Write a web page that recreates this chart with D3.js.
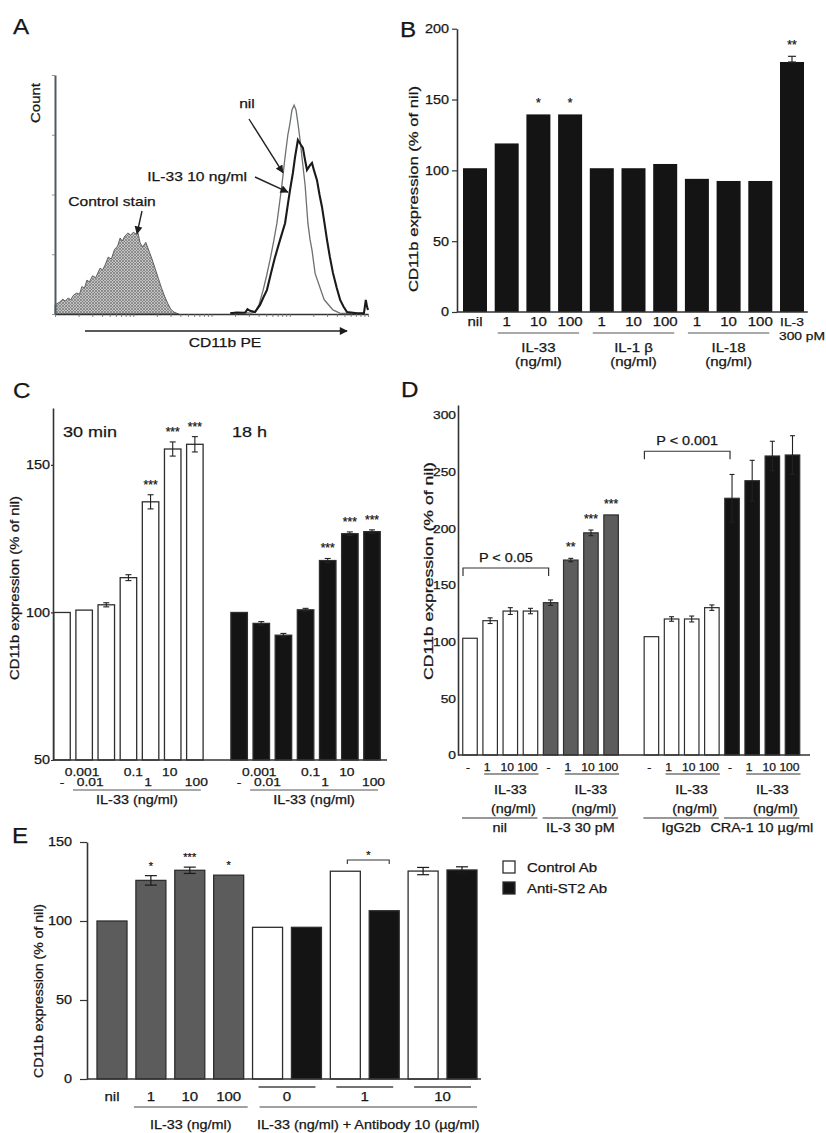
<!DOCTYPE html>
<html><head><meta charset="utf-8">
<script src="https://cdn.jsdelivr.net/npm/d3@7"></script>
<style>
body{margin:0;background:#fff}
svg{display:block;background:#fff}
text{font-family:"Liberation Sans",Arial,Helvetica,sans-serif;fill:#161616;stroke:#161616;stroke-width:0.25px}
</style>
</head><body>
<svg id="fig" width="826" height="1133"></svg>
<script>
// ================= DATA =================
// Panel A: flow histograms [CD11b PE position (0-100, log decades), count (% of max)]
const histControl = [[0,3.8],[1.5,5],[2.5,6.2],[3.3,5.4],[4.2,6.7],[5,6],[6,8],[7,8.8],[7.8,8.2],[8.6,11.5],[9.4,10.8],[10.2,14.2],[11,13.4],[12,16],[13,15.2],[14.4,19.2],[15.2,18.4],[16,20.5],[17,23.8],[18,23],[19,27],[20,28.4],[20.8,31.8],[21.5,30.5],[22.3,32.6],[23.3,33.9],[24.2,33],[25,34.2],[26,33.4],[26.5,34],[27.2,29.8],[28,28],[29,30],[30,26.5],[31,23],[32,19],[33,15],[34,11],[35,7.5],[36,4.5],[37,2],[38,0.8],[39.5,0]];
const histNil = [[56,0.5],[58,0.3],[60.7,0.6],[62.5,0.4],[63.9,0.8],[65.2,4],[66.5,10],[67.6,16],[68.7,22.6],[69.8,30],[70.9,38],[71.7,46],[72.5,54],[73.5,65.7],[74.4,75],[75.1,80],[75.7,85.4],[76.4,87.4],[77,85.4],[77.6,80],[78.3,72.8],[78.9,65.7],[79.9,54],[80.8,38],[81.5,31],[82.1,26.8],[83.1,17],[84.7,10.9],[86,6],[86.9,4.6],[88.8,1.7],[91,0.4],[95,0.3],[99,0.2]];
const histIL33 = [[56,0.3],[58,0.6],[60.7,0.5],[61.5,2],[62.3,1.3],[63.9,0.8],[65.5,3.8],[66.6,7],[67.7,10],[69,17],[70.3,23.8],[71.9,31],[73.5,38],[74.3,45],[75.1,52],[76,59],[76.7,65.7],[77.6,72.8],[78.6,70.7],[79.2,69.5],[79.9,64.4],[80.5,60.3],[81.5,62.3],[82.1,63.2],[82.7,60.3],[83.7,56],[84.5,50],[85.3,44.8],[86.1,38],[86.9,31],[87.8,24],[88.8,17.2],[90,11],[91.1,5.9],[92.2,3],[93.3,0.8],[96.5,0.3],[98.7,0.3],[99.3,5.9],[99.7,3],[100,1.7]];
const aDecades = [0,25,50,75,100];
const aYTicks = [0,25,50,75,100];

// Panel B
const bTickLabels = ["nil","1","10","100","1","10","100","1","10","100","IL-3"];
const bValues = [101.5,119,139.5,139.5,101.5,101.5,104.5,94,92.5,92.5,176.5];
const bErrors = [0,0,0,0,0,0,0,0,0,0,4];
const bStars  = ["","","*","*","","","","","","","**"];
const bYTicks = [0,50,100,150,200];
const bGroups = [
  {name:"IL-33", unit:"(ng/ml)", from:1, to:3},
  {name:"IL-1 \u03B2", unit:"(ng/ml)", from:4, to:6},
  {name:"IL-18", unit:"(ng/ml)", from:7, to:9}
];

// Panel C
const cDoses = ["-","0.001","0.01","0.1","1","10","100"];
const c30min = [100,100.8,102.6,111.8,137.5,155.4,157];
const c30minErr = [0,0,0.7,1,2.4,2.4,2.6];
const c18h = [100,96.3,92.3,100.9,117.6,126.7,127.4];
const c18hErr = [0,0.6,0.6,0.5,0.7,0.6,0.6];
const cStars30 = ["","","","","***","***","***"];
const cStars18 = ["","","","","***","***","***"];
const cYTicks = [50,100,150];

// Panel D
const dTickLabels = ["-","1","10","100","-","1","10","100","-","1","10","100","-","1","10","100"];
const dValues = [103,118.5,127,127,134.4,172,196,211.8,104.4,120,120,130,226.5,242,263.8,264.7];
const dErrors = [0,2.5,3,2.4,2.4,1.5,2.5,0,0,2,2.6,2.4,21,18,13,17];
const dCondition = ["nil","nil","nil","nil","IL-3 30 pM","IL-3 30 pM","IL-3 30 pM","IL-3 30 pM","IgG2b","IgG2b","IgG2b","IgG2b","CRA-1 10 \u00B5g/ml","CRA-1 10 \u00B5g/ml","CRA-1 10 \u00B5g/ml","CRA-1 10 \u00B5g/ml"];
const dStars = ["","","","","","**","***","***","","","","","","","",""];
const dYTicks = [0,50,100,150,200,250,300];
const dBrackets = [{from:0,to:4,level:165,label:"P < 0.05"},{from:8,to:12,level:268,label:"P < 0.001"}];

// Panel E
const eTickLabels = ["nil","1","10","100"];
const eValues = [100,125.7,132.1,129,96,96,131.5,106.5,131.6,132.3];
const eErrors = [0,3,2,0,0,0,0,0,2.3,2];
const eSeries = ["IL-33","IL-33","IL-33","IL-33","Control Ab","Anti-ST2 Ab","Control Ab","Anti-ST2 Ab","Control Ab","Anti-ST2 Ab"];
const eStars = ["","*","***","*","","","","","",""];
const ePairLabels = ["0","1","10"];
const eYTicks = [0,50,100,150];
const eLegend = ["Control Ab","Anti-ST2 Ab"];

// ================= DRAWING =================
const svg = d3.select("#fig");
const defs = svg.append("defs");
const pat = defs.append("pattern").attr("id","hatch").attr("width",3).attr("height",3).attr("patternUnits","userSpaceOnUse");
pat.append("rect").attr("width",3).attr("height",3).attr("fill","#c4c4c4");
pat.append("path").attr("d","M0,0L3,3M3,0L0,3").attr("stroke","#777").attr("stroke-width",0.7);
defs.append("marker").attr("id","arr").attr("viewBox","0 0 10 10").attr("refX",9).attr("refY",5)
  .attr("markerWidth",9).attr("markerHeight",8).attr("markerUnits","userSpaceOnUse").attr("orient","auto")
  .append("path").attr("d","M0,0L10,5L0,10z").attr("fill","#1c1c1c");

const INK = "#2a2a2a";
function txt(g, x, y, s, o = {}) {
  const t = g.append("text").attr("x", x).attr("y", y).text(s)
    .attr("font-size", o.size || 12).attr("text-anchor", o.anchor || "middle")
    .attr("data-stretch", o.stretch != null ? o.stretch : 1.2);
  if (o.len) t.attr("data-len", o.len);
  if (o.rotate) t.attr("transform", `rotate(-90,${x},${y})`);
  return t;
}
function ln(g, x1, y1, x2, y2, w = 1.3, c = INK) {
  return g.append("line").attr("x1", x1).attr("y1", y1).attr("x2", x2).attr("y2", y2)
    .attr("stroke", c).attr("stroke-width", w);
}
function styleAxis(g, size) {
  g.attr("font-family", null);
  g.select(".domain").attr("stroke", "#333").attr("stroke-width", 1.6);
  g.selectAll(".tick line").attr("stroke", "#333").attr("stroke-width", 1.2);
  g.selectAll(".tick text").attr("font-size", size).attr("data-stretch", 1.2);
}
function errBar(g, x, yLo, yHi, cap, c = INK, w = 1.2) {
  ln(g, x, yLo, x, yHi, w, c);
  ln(g, x - cap / 2, yHi, x + cap / 2, yHi, w, c);
  if (yLo !== yHi) ln(g, x - cap / 2, yLo, x + cap / 2, yLo, w, c);
}
const fills = {open: "#ffffff", black: "#141414", gray: "#5c5c5c"};

// ---------- Panel A ----------
{
  const g = svg.append("g");
  const x = d3.scaleLinear([0, 100], [55, 368]);
  const y = d3.scaleLinear([0, 100], [314, 75]);
  txt(g, 13, 34, "A", {size: 22, anchor: "start", stretch: 1.1});
  const area = d3.area().x(d => x(d[0])).y0(y(0)).y1(d => y(d[1]));
  g.append("path").datum(histControl).attr("d", area).attr("fill", "url(#hatch)").attr("stroke", "#555").attr("stroke-width", 0.9);
  const line = d3.line().x(d => x(d[0])).y(d => y(d[1]));
  g.append("path").datum(histNil).attr("d", line).attr("fill", "none").attr("stroke", "#6b716c").attr("stroke-width", 1.3);
  g.append("path").datum(histIL33).attr("d", line).attr("fill", "none").attr("stroke", "#1a1a1a").attr("stroke-width", 2.1);
  const minor = [];
  for (let d = 0; d < 4; d++) for (let k = 2; k < 10; k++) minor.push(aDecades[d] + 25 * Math.log10(k));
  const ax = g.append("g").attr("transform", `translate(0,${y(0)})`)
    .call(d3.axisBottom(x).tickValues(aDecades.concat(minor)).tickSize(3).tickSizeOuter(0).tickFormat(""));
  styleAxis(ax, 10);
  ax.select(".domain").attr("stroke-width", 1.5);
  ax.selectAll(".tick line").attr("stroke-width", 0.8).attr("stroke", "#666");
  const ay = g.append("g").attr("transform", `translate(${x(0)},0)`)
    .call(d3.axisLeft(y).tickValues(aYTicks).tickSize(3).tickSizeOuter(0).tickFormat(""));
  styleAxis(ay, 10);
  ay.select(".domain").attr("stroke", "#4a5a60").attr("stroke-width", 2);
  ay.selectAll(".tick line").attr("stroke-width", 0.8).attr("stroke", "#777");
  txt(g, 40, 103, "Count", {size: 13, rotate: true, len: 40});
  ln(g, 85, 331, 347, 331, 1.5, "#222").attr("marker-end", "url(#arr)");
  txt(g, 225, 347, "CD11b PE", {size: 13});
  // annotations
  txt(g, 247, 108, "nil", {size: 13});
  ln(g, 249, 119, x(72.8), y(60) + 2, 1.4, "#222").attr("marker-end", "url(#arr)");
  txt(g, 247, 181, "IL-33 10 ng/ml", {size: 13, anchor: "end"});
  ln(g, 255, 177, x(74.4), y(51), 1.4, "#222").attr("marker-end", "url(#arr)");
  txt(g, 112, 206, "Control stain", {size: 13});
  ln(g, 142, 211, x(26.2), y(33.6), 1.4, "#222").attr("marker-end", "url(#arr)");
}

// ---------- Panel B ----------
{
  const g = svg.append("g");
  const x = d3.scaleBand(d3.range(bValues.length), [459.2, 807.8]).paddingInner(0.243).paddingOuter(0.12);
  const y = d3.scaleLinear([0, 200], [312, 28.7]);
  const bw = x.bandwidth();
  txt(g, 400, 37, "B", {size: 22, anchor: "start", stretch: 1.1});
  g.selectAll("rect.bar").data(bValues).join("rect").attr("class", "bar")
    .attr("x", (d, i) => x(i)).attr("width", bw).attr("y", d => y(d)).attr("height", d => y(0) - y(d))
    .attr("fill", fills.black);
  bValues.forEach((v, i) => {
    const cx = x(i) + bw / 2;
    if (bErrors[i]) errBar(g, cx, y(v), y(v + bErrors[i]), 8);
    if (bStars[i]) txt(g, cx, y(v + bErrors[i]) - 7, bStars[i], {size: 12, stretch: 1});
  });
  const ay = g.append("g").attr("transform", "translate(457,0)")
    .call(d3.axisLeft(y).tickValues(bYTicks).tickSize(5).tickPadding(3).tickSizeOuter(0));
  styleAxis(ay, 12);
  ln(g, 457, y(0), x.range()[1], y(0), 1.6, "#333");
  bTickLabels.forEach((s, i) => txt(g, x(i) + bw / 2, 326, s, {size: i === bTickLabels.length - 1 ? 11.5 : 12.5}));
  bGroups.forEach(gr => {
    const x0 = x(gr.from) + 3, x1 = x(gr.to) + bw - 3;
    ln(g, x0, 333, x1, 333, 1.2, "#555");
    txt(g, (x0 + x1) / 2, 352, gr.name, {size: 12.5});
    txt(g, (x0 + x1) / 2, 366, gr.unit, {size: 12.5});
  });
  txt(g, 779, 340, "300 pM", {size: 11.5, anchor: "start"});
  txt(g, 418, 189, "CD11b expression (% of nil)", {size: 12, rotate: true, len: 206});
}

// ---------- Panel C ----------
{
  const g = svg.append("g");
  const x = d3.scalePoint(d3.range(15), [62, 372]);
  const y = d3.scaleLinear([50, 169.3], [760, 408]);
  const bw = 16.5;
  txt(g, 13, 398, "C", {size: 22, anchor: "start", stretch: 1.1});
  const sets = [
    {vals: c30min, errs: c30minErr, stars: cStars30, off: 0, fill: fills.open},
    {vals: c18h, errs: c18hErr, stars: cStars18, off: 8, fill: fills.black}
  ];
  sets.forEach(s => {
    s.vals.forEach((v, i) => {
      const cx = x(i + s.off);
      g.append("rect").attr("x", cx - bw / 2).attr("width", bw).attr("y", y(v)).attr("height", y(50) - y(v))
        .attr("fill", s.fill).attr("stroke", "#2e2e2e").attr("stroke-width", 1.3);
      if (s.errs[i]) errBar(g, cx, y(v - s.errs[i]), y(v + s.errs[i]), 6, "#222", 1.1);
      if (s.stars[i]) txt(g, cx, y(v + s.errs[i]) - 6, s.stars[i], {size: 12, stretch: 1});
    });
  });
  const ay = g.append("g").attr("transform", "translate(53,0)")
    .call(d3.axisLeft(y).tickValues(cYTicks).tickSize(2).tickPadding(1).tickSizeOuter(0));
  styleAxis(ay, 12);
  ln(g, 53, y(50), 387, y(50), 1.6, "#333");
  txt(g, 63, 437, "30 min", {size: 15, anchor: "start"});
  txt(g, 232, 437, "18 h", {size: 15, anchor: "start"});
  const dx = [0, -2, -16, 5, -2.5, -3, 1.5];
  [0, 8].forEach(off => {
    cDoses.forEach((s, i) => txt(g, x(i + off) + dx[i], i % 2 ? 776 : 786, s, {size: 11.5}));
    const x0 = x(off) + 11, x1 = x(off + 6) + 6;
    ln(g, x0, 790, x1, 790, 1.2, "#555");
    txt(g, (x0 + x1) / 2, 804, "IL-33 (ng/ml)", {size: 12});
  });
  txt(g, 19, 588, "CD11b expression (% of nil)", {size: 12, rotate: true, len: 184});
}

// ---------- Panel D ----------
{
  const g = svg.append("g");
  const x = d3.scalePoint(d3.range(17), [470, 792.5]);
  const y = d3.scaleLinear([0, 308.8], [755, 405]);
  const bw = 14.5;
  const slot = i => x(i < 8 ? i : i + 1);
  const condFill = {"nil": fills.open, "IL-3 30 pM": fills.gray, "IgG2b": fills.open, "CRA-1 10 \u00B5g/ml": fills.black};
  txt(g, 401, 397, "D", {size: 22, anchor: "start", stretch: 1.1});
  dValues.forEach((v, i) => {
    const cx = slot(i);
    g.append("rect").attr("x", cx - bw / 2).attr("width", bw).attr("y", y(v)).attr("height", y(0) - y(v))
      .attr("fill", condFill[dCondition[i]]).attr("stroke", "#2e2e2e").attr("stroke-width", 1.2);
    if (dErrors[i]) errBar(g, cx, y(v - dErrors[i]), y(v + dErrors[i]), 5, "#222", 1.1);
    if (dStars[i]) txt(g, cx, y(v + dErrors[i]) - 7, dStars[i], {size: 12, stretch: 1});
  });
  dBrackets.forEach(b => {
    const x0 = slot(b.from) - 7, x1 = slot(b.to) - 2, yy = y(b.level);
    g.append("path").attr("d", `M${x0},${yy + 8}V${yy}H${x1}V${yy + 8}`).attr("fill", "none").attr("stroke", "#333").attr("stroke-width", 1.2);
    txt(g, (x0 + x1) / 2, yy - 6, b.label, {size: 12});
  });
  const ay = g.append("g").attr("transform", "translate(458,0)")
    .call(d3.axisLeft(y).tickValues(dYTicks).tickSize(0).tickPadding(2).tickSizeOuter(0));
  styleAxis(ay, 11.5);
  ln(g, 458, y(0), 810, y(0), 1.6, "#333");
  const conds = Array.from(new Set(dCondition));
  conds.forEach(c => {
    const idx = d3.range(dCondition.length).filter(i => dCondition[i] === c);
    idx.forEach(i => txt(g, slot(i) - (dTickLabels[i] === "-" ? 2 : 3), 771, dTickLabels[i], {size: 11, stretch: 1.1}));
    const s1 = slot(idx[1]) - 6, s3 = slot(idx[3]) + 8;
    ln(g, s1, 774, s3, 774, 1.1, "#333");
    txt(g, (slot(idx[1]) + slot(idx[3])) / 2, 794, "IL-33", {size: 12});
    txt(g, (slot(idx[1]) + slot(idx[3])) / 2 + 3, 813, "(ng/ml)", {size: 12});
    const l0 = slot(idx[0]) - 8, l1 = slot(idx[3]) + 7;
    ln(g, l0, 818, l1, 818, 1.2, "#333");
    txt(g, (l0 + l1) / 2, 832, c, {size: 12});
  });
  txt(g, 433, 571, "CD11b expression (% of nil)", {size: 12, rotate: true, len: 218});
}

// ---------- Panel E ----------
{
  const g = svg.append("g");
  const x = d3.scalePoint(d3.range(eValues.length), [112, 462]);
  const y = d3.scaleLinear([0, 150], [1079, 842]);
  const bw = 30;
  const serFill = {"IL-33": fills.gray, "Control Ab": fills.open, "Anti-ST2 Ab": fills.black};
  txt(g, 12, 843, "E", {size: 22, anchor: "start", stretch: 1.1});
  eValues.forEach((v, i) => {
    const cx = x(i);
    g.append("rect").attr("x", cx - bw / 2).attr("width", bw).attr("y", y(v)).attr("height", y(0) - y(v))
      .attr("fill", serFill[eSeries[i]]).attr("stroke", "#2e2e2e").attr("stroke-width", 1.3);
    if (eErrors[i]) errBar(g, cx, y(v - eErrors[i]), y(v + eErrors[i]), 12, "#1a1a1a", 1.2);
    if (eStars[i]) txt(g, cx, y(v + eErrors[i]) - 6, eStars[i], {size: 11, stretch: 1});
  });
  // bracket between Control / Anti-ST2 at IL-33 1 ng/ml
  {
    const x0 = x(6) + 2, x1 = x(7) + 5, yy = y(138.6);
    g.append("path").attr("d", `M${x0},${yy + 4}V${yy}H${x1}V${yy + 4}`).attr("fill", "none").attr("stroke", "#333").attr("stroke-width", 1.1);
    txt(g, (x0 + x1) / 2, yy - 1, "*", {size: 11, stretch: 1});
  }
  const ay = g.append("g").attr("transform", "translate(87,0)")
    .call(d3.axisLeft(y).tickValues(eYTicks).tickSize(7).tickPadding(8).tickSizeOuter(0));
  styleAxis(ay, 12);
  ln(g, 87, y(0), 481, y(0), 1.6, "#333");
  eTickLabels.forEach((s, i) => txt(g, x(i), 1101, s, {size: 12.5}));
  ln(g, x(1) - bw / 2 - 2, 1107, x(3) + bw / 2 + 4, 1107, 1.2, "#444");
  txt(g, (x(1) + x(3)) / 2 + 1, 1129, "IL-33 (ng/ml)", {size: 12});
  ePairLabels.forEach((s, k) => {
    const a = x(4 + 2 * k) - bw / 2 + 6, b = x(5 + 2 * k) + bw / 2 - 6;
    ln(g, a, 1087, b, 1087, 1.4, "#444");
    txt(g, (a + b) / 2, 1101, s, {size: 12.5});
  });
  const l0 = x(4) - bw / 2 + 7, l1 = x(9) + bw / 2;
  ln(g, l0, 1107, l1, 1107, 1.2, "#444");
  txt(g, (l0 + l1) / 2, 1129, "IL-33 (ng/ml) + Antibody 10 (\u00B5g/ml)", {size: 12});
  // legend
  eLegend.forEach((s, k) => {
    g.append("rect").attr("x", 503).attr("y", 861 + 21 * k).attr("width", 12).attr("height", 12)
      .attr("fill", serFill[s]).attr("stroke", "#2e2e2e").attr("stroke-width", 1.3);
    txt(g, 527, 872 + 21 * k, s, {size: 12.5, anchor: "start"});
  });
  txt(g, 43, 991, "CD11b expression (% of nil)", {size: 12, rotate: true, len: 174});
}

// ---------- text stretch (the figure's lettering is wide) ----------
svg.selectAll("text").each(function () {
  const el = this;
  const fixed = el.getAttribute("data-len");
  const k = +(el.getAttribute("data-stretch") || 1.2);
  const L = fixed ? +fixed : el.getComputedTextLength() * k;
  if (L > 0 && (fixed || k !== 1)) {
    el.setAttribute("textLength", L);
    el.setAttribute("lengthAdjust", "spacingAndGlyphs");
  }
});
</script>
</body></html>
